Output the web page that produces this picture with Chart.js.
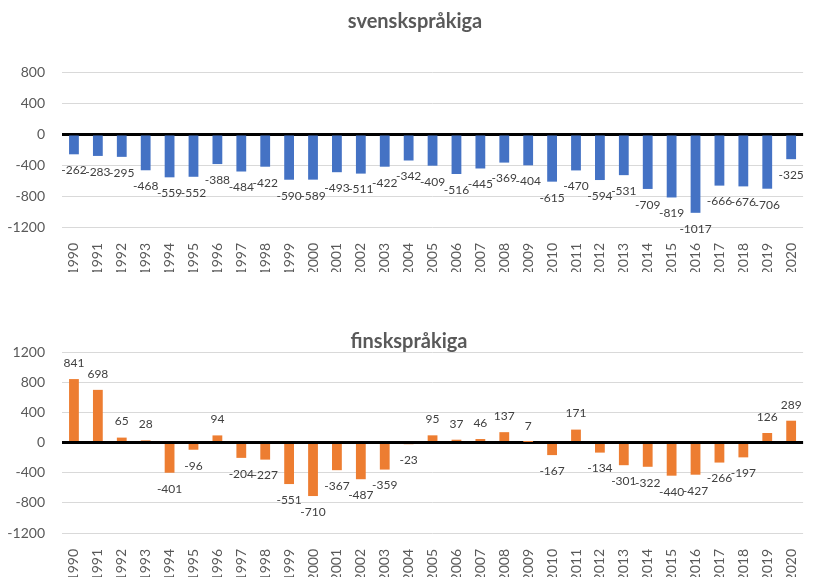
<!DOCTYPE html>
<html>
<head>
<meta charset="utf-8">
<script src="https://cdn.jsdelivr.net/npm/chart.js@4/dist/chart.umd.min.js"></script>
<style>
  body { margin: 0; background: #ffffff; }
  .ruta { position: absolute; left: 0; width: 816px; }
</style>
</head>
<body>
<div class="ruta" style="top:0px;height:272px;"><canvas id="svenska"></canvas></div>
<div class="ruta" style="top:300px;height:277px;"><canvas id="finska"></canvas></div>
<script>
/* Data: nettoflyttning per år */
var ar = ['1990', '1991', '1992', '1993', '1994', '1995', '1996', '1997', '1998', '1999', '2000',
          '2001', '2002', '2003', '2004', '2005', '2006', '2007', '2008', '2009', '2010',
          '2011', '2012', '2013', '2014', '2015', '2016', '2017', '2018', '2019', '2020'];
var svenskspraakiga = [-262, -283, -295, -468, -559, -552, -388, -484, -422, -590, -589,
                       -493, -511, -422, -342, -409, -516, -445, -369, -404, -615,
                       -470, -594, -531, -709, -819, -1017, -666, -676, -706, -325];
var finskspraakiga = [841, 698, 65, 28, -401, -96, 94, -204, -227, -551, -710,
                      -367, -487, -359, -23, 95, 37, 46, 137, 7, -167,
                      171, -134, -301, -322, -440, -427, -266, -197, 126, 289];

var typsnitt = 'Lato';

/* Etiketter vid staplarnas ände */
var etiketter = {
    id: 'etiketter',
    afterDatasetsDraw: function (chart) {
        var ctx = chart.ctx;
        var meta = chart.getDatasetMeta(0);
        var varden = chart.data.datasets[0].data;
        ctx.save();
        ctx.font = '12px ' + typsnitt;
        ctx.fillStyle = '#404040';
        ctx.textAlign = 'center';
        ctx.textBaseline = 'middle';
        meta.data.forEach(function (stapel, i) {
            var v = varden[i];
            var y = v < 0 ? stapel.y + 16 : stapel.y - 16;
            ctx.fillText(String(v), stapel.x, y);
        });
        ctx.restore();
    }
};

/* Flytta titeln lite i sidled, som i originalet */
var titelFlytt = {
    id: 'titelFlytt',
    afterLayout: function (chart, args, opts) {
        if (chart.titleBlock) {
            chart.titleBlock.left += opts.dx;
            chart.titleBlock.right += opts.dx;
        }
    }
};

function ritaDiagram(id, titel, varden, farg, ymax, dx, titelTopp, titelBotten, xHojd) {
    return new Chart(document.getElementById(id), {
        type: 'bar',
        data: {
            labels: ar,
            datasets: [{
                data: varden,
                backgroundColor: farg,
                barPercentage: 0.41,
                categoryPercentage: 1.0
            }]
        },
        options: {
            responsive: true,
            maintainAspectRatio: false,
            animation: false,
            layout: { padding: { left: 0, right: 3, top: 0, bottom: 0 } },
            plugins: {
                legend: { display: false },
                tooltip: { enabled: false },
                titelFlytt: { dx: dx },
                title: {
                    display: true,
                    text: titel,
                    color: '#595959',
                    font: { family: typsnitt, size: 20, weight: 'bold', lineHeight: 1 },
                    padding: { top: titelTopp, bottom: titelBotten }
                }
            },
            scales: {
                x: {
                    grid: { display: false },
                    border: { display: false },
                    ticks: {
                        color: '#595959',
                        font: { family: typsnitt, size: 14 },
                        minRotation: 90,
                        maxRotation: 90,
                        autoSkip: false,
                        padding: 8
                    },
                    afterFit: function (s) { s.height = xHojd; }
                },
                y: {
                    min: -1200,
                    max: ymax,
                    border: { display: false },
                    grid: {
                        drawTicks: false,
                        color: function (c) { return c.tick && c.tick.value === 0 ? '#000000' : '#d9d9d9'; },
                        lineWidth: function (c) { return c.tick && c.tick.value === 0 ? 3 : 1; }
                    },
                    ticks: {
                        stepSize: 400,
                        color: '#595959',
                        font: { family: typsnitt, size: 14 },
                        padding: 17,
                        callback: function (v) { return String(v); }
                    },
                    afterFit: function (s) { s.width = 62; }
                }
            }
        },
        plugins: [etiketter, titelFlytt]
    });
}

ritaDiagram('svenska', 'svenskspråkiga', svenskspraakiga, '#4472C4', 800, 8.5, 11.2, 40.8, 45);
ritaDiagram('finska', 'finskspråkiga', finskspraakiga, '#ED7D31', 1200, 2.5, 31.2, 0.8, 44);
</script>
</body>
</html>
